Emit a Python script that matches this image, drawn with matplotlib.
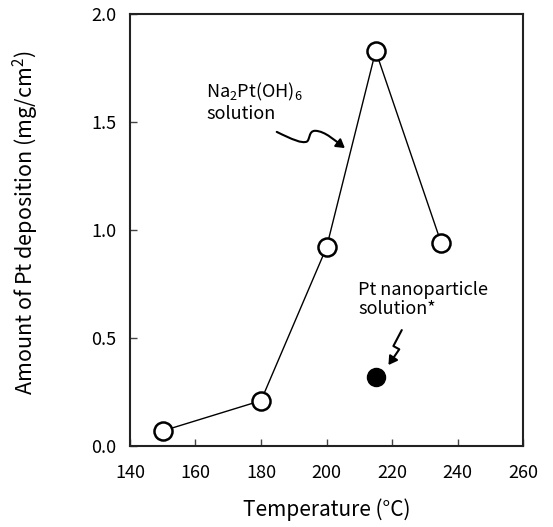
import matplotlib
matplotlib.use("Agg")
import matplotlib.pyplot as plt
from matplotlib.path import Path
from matplotlib.patches import FancyArrowPatch

plt.rcParams['font.family'] = ['Noto Sans CJK JP', 'DejaVu Sans']
plt.rcParams['mathtext.fontset'] = 'custom'
plt.rcParams['mathtext.rm'] = 'Noto Sans CJK JP'
plt.rcParams['mathtext.it'] = 'Noto Sans CJK JP'
plt.rcParams['mathtext.bf'] = 'Noto Sans CJK JP'
plt.rcParams['mathtext.default'] = 'regular'

temps_na = [150, 180, 200, 215, 235]
dep_na = [0.07, 0.21, 0.92, 1.83, 0.94]
temps_np = [215]
dep_np = [0.32]
xticks = [140, 160, 180, 200, 220, 240, 260]
yticks = [0.0, 0.5, 1.0, 1.5, 2.0]

fig = plt.figure(figsize=(5.53, 5.27), dpi=100)
ax = fig.add_axes([0.235, 0.1537, 0.711, 0.8193])

ax.plot(temps_na, dep_na, '-', color='black', lw=1.0, marker='o', ms=13,
        mfc='white', mec='black', mew=1.8, zorder=3)
ax.plot(temps_np, dep_np, 'o', color='black', ms=13, zorder=3)

ax.set_xlim(140, 260)
ax.set_ylim(0, 2.0)
ax.set_xticks(xticks)
ax.set_xticklabels([str(t) for t in xticks])
ax.set_yticks(yticks)
ax.set_yticklabels([f"{t:.1f}" for t in yticks])
ax.tick_params(direction='in', length=5, width=1, color='#444444', labelsize=13)
ax.tick_params(axis='x', pad=13)
ax.tick_params(axis='y', pad=10)
for s in ax.spines.values():
    s.set_linewidth(1.5)
    s.set_color('#222222')

ax.set_xlabel('Temperature (°C)', fontsize=15, labelpad=12)
ax.set_ylabel('Amount of Pt deposition (mg/cm$^2$)', fontsize=15.5)
ax.yaxis.set_label_coords(-0.226, 0.518)

ax.text(163.2, 1.69, 'Na$_2$Pt(OH)$_6$\nsolution', fontsize=13, va='top', ha='left',
        linespacing=1.1)
ax.text(209.6, 0.765, 'Pt nanoparticle\nsolution*', fontsize=13, va='top', ha='left',
        linespacing=1.1)

# wavy arrow
verts1 = [(184.8, 1.455), (189.5, 1.42), (192.5, 1.40), (194.0, 1.41),
          (195.0, 1.42), (194.5, 1.46), (196.5, 1.46),
          (199.5, 1.46), (203.0, 1.41), (205.6, 1.38)]
codes1 = [Path.MOVETO, Path.CURVE4, Path.CURVE4, Path.CURVE4,
          Path.CURVE4, Path.CURVE4, Path.CURVE4,
          Path.CURVE4, Path.CURVE4, Path.CURVE4]
arr1 = FancyArrowPatch(path=Path(verts1, codes1), arrowstyle='-|>,head_length=5,head_width=3',
                       color='black', lw=1.5, shrinkA=0, shrinkB=0)
ax.add_patch(arr1)

verts2 = [(222.96, 0.537), (220.4, 0.463), (222.2, 0.448), (218.9, 0.375)]
codes2 = [Path.MOVETO, Path.LINETO, Path.LINETO, Path.LINETO]
arr2 = FancyArrowPatch(path=Path(verts2, codes2), arrowstyle='-|>,head_length=5,head_width=3',
                       color='black', lw=1.5, shrinkA=0, shrinkB=0)
ax.add_patch(arr2)

fig.savefig('out.png', dpi=100)
